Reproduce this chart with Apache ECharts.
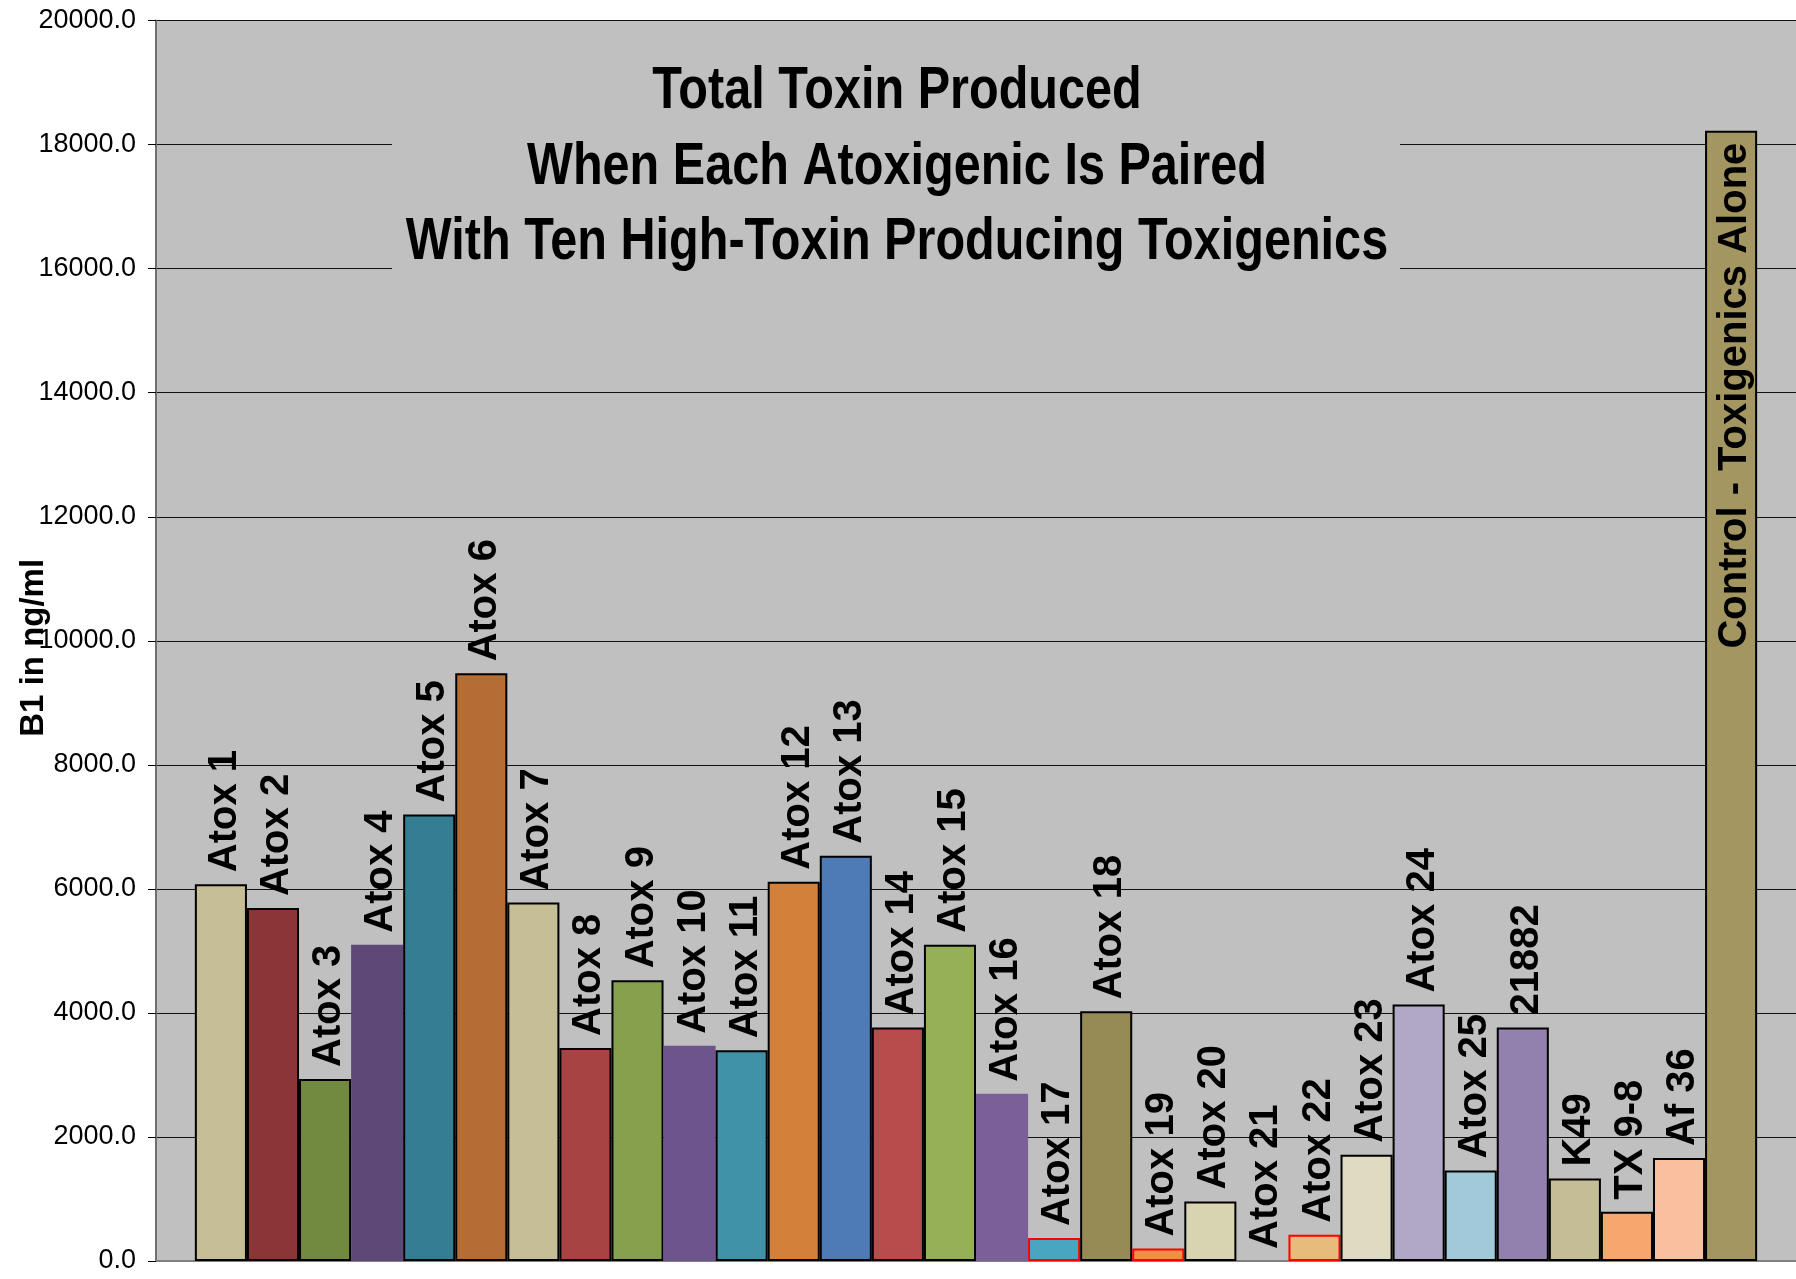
<!DOCTYPE html>
<html>
<head>
<meta charset="utf-8">
<script src="https://cdn.jsdelivr.net/npm/echarts@6/dist/echarts.min.js"></script>
<style>
  html, body { margin: 0; padding: 0; background: #ffffff; }
  #chart { width: 1796px; height: 1279px; }
</style>
</head>
<body>
<div id="chart"></div>
<script>
const strains = [
  'Atox 1', 'Atox 2', 'Atox 3', 'Atox 4', 'Atox 5', 'Atox 6', 'Atox 7', 'Atox 8',
  'Atox 9', 'Atox 10', 'Atox 11', 'Atox 12', 'Atox 13', 'Atox 14', 'Atox 15',
  'Atox 16', 'Atox 17', 'Atox 18', 'Atox 19', 'Atox 20', 'Atox 21', 'Atox 22',
  'Atox 23', 'Atox 24', 'Atox 25', '21882', 'K49', 'TX 9-8', 'Af 36',
  'Control - Toxigenics Alone'
]

// total B1 (ng/ml)
const toxinB1 = [
  6075, 5690, 2935, 5100, 7200, 9475, 5780, 3435,
  4525, 3470, 3400, 6115, 6535, 3765, 5100,
  2695, 370, 4025, 200, 960, 0, 425,
  1715, 4135, 1460, 3765, 1330, 795, 1660,
  18225
]

const yTicks = [0, 2000, 4000, 6000, 8000, 10000, 12000, 14000, 16000, 18000, 20000]

const titleLines = [
  'Total Toxin Produced',
  'When Each Atoxigenic Is Paired',
  'With Ten High-Toxin Producing Toxigenics'
]

const fills = [
  '#c6be96', '#8b3536', '#718a3f', '#5e4878', '#357d93', '#b46d32', '#c6be96', '#a84344',
  '#86a04d', '#6e548d', '#4092a8', '#d3803a', '#4e7ab5', '#b84b4b', '#96b058',
  '#7b5f99', '#49a6c0', '#968b55', '#ee9148', '#d8d3b0', '#c0c0c0', '#e7bb7b',
  '#dedbc2', '#b1a8c7', '#a1c9da', '#9280ae', '#c5bd96', '#f7a66e', '#f9c0a0',
  '#a39660'
]

// outline of each bar ('' = none)
const outlines = [
  '#000', '#000', '#000', '', '#000', '#000', '#000', '#000',
  '#000', '', '#000', '#000', '#000', '#000', '#000',
  '', '#ff0000', '#000', '#ff0000', '#000', '', '#ff0000',
  '#000', '#000', '#000', '#000', '#000', '#000', '#000',
  '#000'
]

const sans = "'Liberation Sans', Arial, sans-serif"

const lastIdx = strains.length - 1

const series = strains.map((name, i) => ({
  type: 'bar',
  name: name,
  data: [toxinB1[i]],
  barGap: '0%',
  barCategoryGap: '4.74%',
  itemStyle: {
    color: fills[i],
    borderColor: outlines[i] || fills[i],
    borderWidth: outlines[i] ? 2 : 0
  },
  label: {
    show: true,
    formatter: '{a}',
    rotate: 90,
    position: i === lastIdx ? 'insideTop' : 'top',
    align: i === lastIdx ? 'right' : 'left',
    verticalAlign: 'middle',
    distance: 12,
    // offset is in the rotated frame: second value nudges right on screen
    offset: [0, 4],
    color: '#000',
    fontFamily: sans,
    fontWeight: 'bold',
    fontSize: 40
  }
}))

const chart = echarts.init(document.getElementById('chart'), null, { renderer: 'canvas' })

chart.setOption({
  animation: false,
  backgroundColor: '#ffffff',
  // title box sits over the grid lines, text squeezed to a narrow face
  graphic: [
    {
      type: 'rect',
      z: 50,
      shape: { x: 392, y: 48, width: 1008, height: 238 },
      style: { fill: '#c0c0c0' }
    },
    {
      type: 'text',
      z: 51,
      x: 897,
      y: 54,
      scaleX: 0.81,
      style: {
        text: titleLines.join('\n'),
        fill: '#000',
        font: "bold 60px 'Liberation Sans', Arial, sans-serif",
        textAlign: 'center',
        textVerticalAlign: 'top',
        lineHeight: 75.5
      }
    }
  ],
  grid: {
    left: 156,
    right: 0,
    top: 20.6,
    bottom: 18,
    containLabel: false,
    outerBoundsMode: 'none',
    show: true,
    backgroundColor: '#c0c0c0',
    borderWidth: 0
  },
  xAxis: {
    type: 'category',
    data: [''],
    axisLine: { show: true, lineStyle: { color: '#808080', width: 2 } },
    axisTick: { show: false },
    axisLabel: { show: false }
  },
  yAxis: {
    type: 'value',
    min: yTicks[0],
    max: yTicks[yTicks.length - 1],
    interval: yTicks[1] - yTicks[0],
    name: 'B1 in ng/ml',
    nameLocation: 'middle',
    nameGap: 106,
    nameMoveOverlap: false,
    nameTextStyle: {
      fontFamily: sans,
      fontWeight: 'bold',
      fontSize: 33,
      color: '#000',
      padding: [0, 14, 0, 0]
    },
    axisLine: { show: true, lineStyle: { color: '#707070', width: 2 } },
    axisTick: { show: true, length: 8, lineStyle: { color: '#000', width: 1 } },
    axisLabel: {
      margin: 20,
      fontFamily: sans,
      fontSize: 27,
      color: '#000',
      formatter: v => v.toFixed(1)
    },
    splitLine: { show: true, lineStyle: { color: '#111', width: 1 } }
  },
  series: series
})
</script>
</body>
</html>
